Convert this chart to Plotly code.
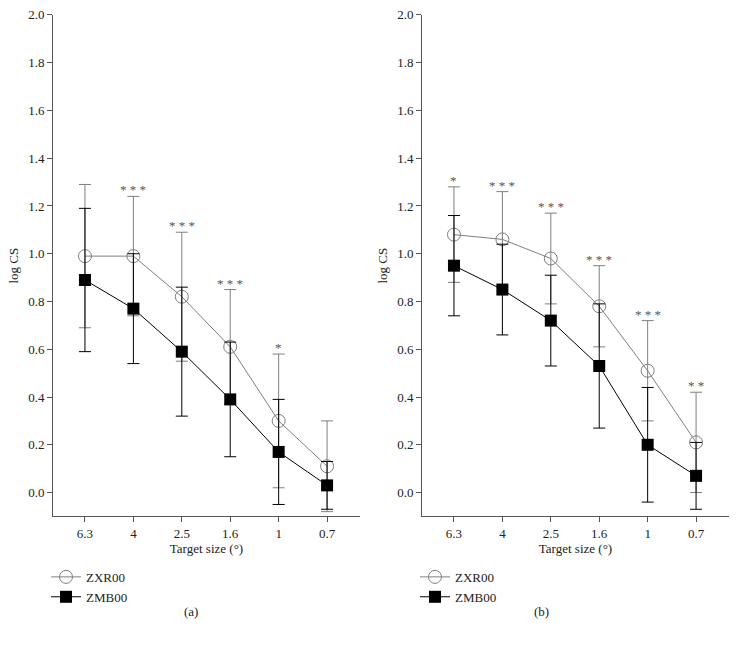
import plotly.graph_objects as go

# ---------------- data ----------------
categories = ["6.3", "4", "2.5", "1.6", "1", "0.7"]

# panel (a)
a_zxr = [0.99, 0.99, 0.82, 0.61, 0.30, 0.11]
a_zxr_err = [0.30, 0.25, 0.27, 0.24, 0.28, 0.19]
a_zmb = [0.89, 0.77, 0.59, 0.39, 0.17, 0.03]
a_zmb_err = [0.30, 0.23, 0.27, 0.24, 0.22, 0.10]
a_stars = ["", "***", "***", "***", "*", ""]

# panel (b)
b_zxr = [1.08, 1.06, 0.98, 0.78, 0.51, 0.21]
b_zxr_err = [0.20, 0.20, 0.19, 0.17, 0.21, 0.21]
b_zmb = [0.95, 0.85, 0.72, 0.53, 0.20, 0.07]
b_zmb_err = [0.21, 0.19, 0.19, 0.26, 0.24, 0.14]
b_stars = ["*", "***", "***", "***", "***", "**"]

series_names = ["ZXR00", "ZMB00"]
panel_labels = ["(a)", "(b)"]

# ---------------- style ----------------
FONT = "Liberation Serif, Times New Roman, serif"
GREY = "#7f7f7f"
BLACK = "#000000"
AXIS = "#555555"
TXT = "#222222"
W, H = 738, 647


def px(x):
    return x / W


def py(y):
    return 1 - y / H


xpos = list(range(len(categories)))

fig = go.Figure()

panels = [
    (a_zxr, a_zxr_err, a_zmb, a_zmb_err, a_stars, "x", "y", "legend"),
    (b_zxr, b_zxr_err, b_zmb, b_zmb_err, b_stars, "x2", "y2", "legend2"),
]

for (zxr, zxr_e, zmb, zmb_e, stars, xa, ya, lg) in panels:
    fig.add_trace(go.Scatter(
        x=xpos, y=zxr, name=series_names[0], xaxis=xa, yaxis=ya, legend=lg,
        mode="lines+markers",
        line=dict(color=GREY, width=1),
        marker=dict(symbol="circle-open", size=13, color=GREY, line=dict(width=1, color=GREY)),
        error_y=dict(type="data", array=zxr_e, visible=True, color=GREY, thickness=1, width=6),
    ))
    fig.add_trace(go.Scatter(
        x=xpos, y=zmb, name=series_names[1], xaxis=xa, yaxis=ya, legend=lg,
        mode="lines+markers",
        line=dict(color=BLACK, width=1),
        marker=dict(symbol="square", size=12, color=BLACK),
        error_y=dict(type="data", array=zmb_e, visible=True, color=BLACK, thickness=1, width=6),
    ))
    for i, s in enumerate(stars):
        if s:
            top = max(zxr[i] + zxr_e[i], zmb[i] + zmb_e[i])
            fig.add_annotation(
                x=xpos[i], y=top, xref=xa, yref=ya, text=" ".join(s),
                showarrow=False, yanchor="bottom", yshift=-3,
                font=dict(family=FONT, size=13, color="#555555"),
            )

ydom = [py(515), py(8)]
xdoms = [[px(53), px(360)], [px(422), px(729)]]

common_x = dict(
    range=[-0.66, 5.68], tickmode="array", tickvals=xpos, ticktext=categories,
    showline=True, linecolor=AXIS, linewidth=1, ticks="outside", ticklen=5,
    tickcolor=AXIS, showgrid=False, zeroline=False,
    tickfont=dict(family=FONT, size=13, color=TXT),
    title=dict(text="Target size (°)", font=dict(family=FONT, size=13, color=TXT), standoff=2),
)
common_y = dict(
    range=[-0.1, 2.0], tick0=0, dtick=0.2, tickformat=".1f",
    showline=True, linecolor=AXIS, linewidth=1, ticks="outside", ticklen=5,
    tickcolor=AXIS, showgrid=False, zeroline=False,
    tickfont=dict(family=FONT, size=13, color=TXT),
    title=dict(text="log CS", font=dict(family=FONT, size=13, color=TXT), standoff=6),
)

leg_common = dict(yanchor="top", xanchor="left",
                  font=dict(family=FONT, size=13, color=TXT),
                  bgcolor="rgba(0,0,0,0)", tracegroupgap=0, itemwidth=30)

fig.update_layout(
    width=W, height=H,
    margin=dict(l=0, r=0, t=0, b=0),
    paper_bgcolor="white", plot_bgcolor="white",
    xaxis=dict(domain=xdoms[0], anchor="y", **common_x),
    yaxis=dict(domain=ydom, anchor="x", **common_y),
    xaxis2=dict(domain=xdoms[1], anchor="y2", **common_x),
    yaxis2=dict(domain=ydom, anchor="x2", **common_y),
    legend=dict(x=px(46), y=py(561), **leg_common),
    legend2=dict(x=px(415), y=py(561), **leg_common),
    showlegend=True,
)

for lbl, xc in zip(panel_labels, [182, 551]):
    fig.add_annotation(x=px(xc), y=py(621), xref="paper", yref="paper", text=lbl,
                       showarrow=False, font=dict(family=FONT, size=13, color=TXT))

fig.write_html("out.html", config={"displayModeBar": False},
               post_script="document.body.style.margin='0';")
